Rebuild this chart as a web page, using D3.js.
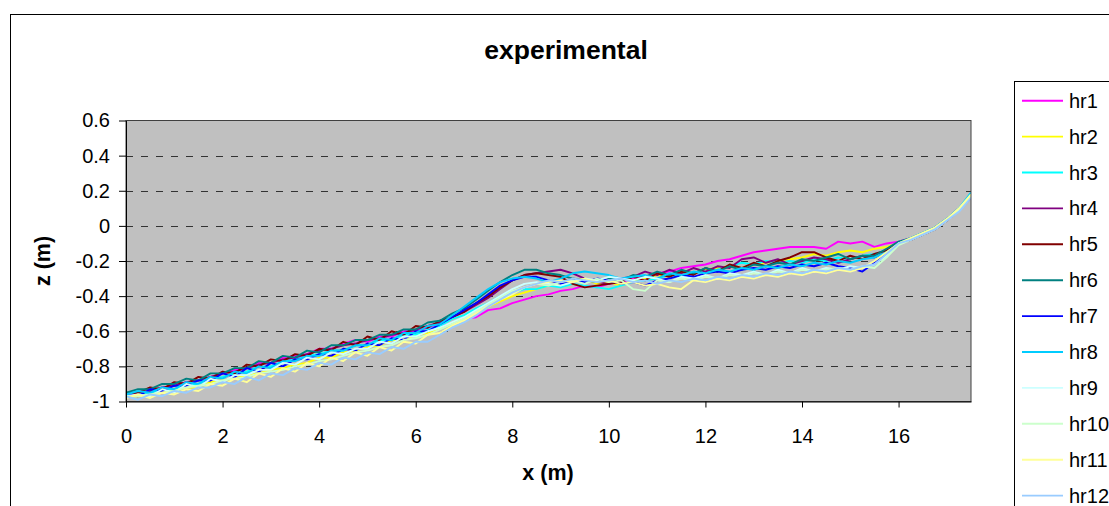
<!DOCTYPE html>
<html>
<head>
<meta charset="utf-8">
<script src="https://cdnjs.cloudflare.com/ajax/libs/d3/7.8.5/d3.min.js"></script>
<style>
	body { margin: 0; background: #fff; }
	svg { display: block; font-family: "Liberation Sans", Arial, sans-serif; }
</style>
</head>
<body>
<div id="chart"></div>
<script>

// x positions of the profile points (m)
var xs = [0,0.25,0.5,0.75,1,1.25,1.5,1.75,2,2.25,2.5,2.75,3,3.25,3.5,3.75,4,4.25,4.5,4.75,
	5,5.25,5.5,5.75,6,6.25,6.5,6.75,7,7.25,7.5,7.75,8,8.25,8.5,8.75,9,9.25,9.5,9.75,
	10,10.25,10.5,10.75,11,11.25,11.5,11.75,12,12.25,12.5,12.75,13,13.25,13.5,13.75,
	14,14.25,14.5,14.75,15,15.25,15.5,15.75,16,16.25,16.5,16.75,17,17.25,17.5];

// bed level z (m), one array per hour
var hr1 = [-0.96,-0.95,-0.94,-0.92,-0.91,-0.89,-0.88,-0.86,-0.84,-0.82,
	-0.81,-0.78,-0.78,-0.75,-0.74,-0.73,-0.70,-0.70,-0.67,-0.65,
	-0.66,-0.63,-0.63,-0.60,-0.60,-0.58,-0.57,-0.56,-0.53,-0.52,
	-0.48,-0.47,-0.44,-0.42,-0.40,-0.39,-0.37,-0.36,-0.34,-0.35,
	-0.33,-0.32,-0.30,-0.29,-0.27,-0.26,-0.24,-0.23,-0.22,-0.20,
	-0.19,-0.17,-0.15,-0.14,-0.13,-0.12,-0.12,-0.12,-0.13,-0.09,
	-0.10,-0.09,-0.12,-0.10,-0.09,-0.07,-0.04,-0.01,0.04,0.10,0.17];
var hr2 = [-0.97,-0.97,-0.96,-0.95,-0.94,-0.92,-0.92,-0.89,-0.88,-0.87,
	-0.85,-0.84,-0.82,-0.81,-0.79,-0.78,-0.75,-0.75,-0.72,-0.71,
	-0.69,-0.68,-0.65,-0.65,-0.62,-0.61,-0.58,-0.56,-0.53,-0.50,
	-0.46,-0.43,-0.40,-0.38,-0.36,-0.34,-0.33,-0.31,-0.30,-0.33,
	-0.32,-0.34,-0.31,-0.30,-0.28,-0.29,-0.26,-0.27,-0.25,-0.24,
	-0.23,-0.24,-0.22,-0.21,-0.20,-0.19,-0.18,-0.16,-0.17,-0.15,
	-0.14,-0.15,-0.13,-0.12,-0.10,-0.08,-0.05,-0.02,0.03,0.09,0.17];
var hr3 = [-0.96,-0.95,-0.95,-0.93,-0.93,-0.90,-0.90,-0.87,-0.86,-0.84,
	-0.83,-0.80,-0.80,-0.77,-0.76,-0.74,-0.73,-0.71,-0.71,-0.68,
	-0.68,-0.65,-0.65,-0.62,-0.62,-0.59,-0.57,-0.53,-0.51,-0.47,
	-0.44,-0.40,-0.38,-0.36,-0.36,-0.34,-0.35,-0.33,-0.34,-0.35,
	-0.36,-0.34,-0.32,-0.31,-0.30,-0.28,-0.29,-0.27,-0.26,-0.25,
	-0.23,-0.21,-0.22,-0.20,-0.21,-0.20,-0.21,-0.19,-0.20,-0.18,
	-0.19,-0.17,-0.16,-0.14,-0.10,-0.07,-0.04,-0.01,0.04,0.10,0.18];
var hr4 = [-0.96,-0.95,-0.94,-0.92,-0.91,-0.89,-0.88,-0.86,-0.84,-0.83,
	-0.81,-0.79,-0.78,-0.76,-0.75,-0.73,-0.71,-0.70,-0.68,-0.67,
	-0.65,-0.64,-0.62,-0.61,-0.59,-0.57,-0.55,-0.52,-0.49,-0.45,
	-0.41,-0.36,-0.31,-0.28,-0.27,-0.26,-0.25,-0.27,-0.30,-0.32,
	-0.33,-0.30,-0.29,-0.26,-0.28,-0.25,-0.27,-0.24,-0.26,-0.23,
	-0.24,-0.19,-0.18,-0.21,-0.19,-0.22,-0.20,-0.18,-0.19,-0.21,
	-0.19,-0.17,-0.18,-0.15,-0.10,-0.08,-0.05,-0.02,0.03,0.09,0.16];
var hr5 = [-0.95,-0.95,-0.92,-0.93,-0.89,-0.90,-0.86,-0.87,-0.83,-0.84,
	-0.79,-0.80,-0.76,-0.77,-0.73,-0.74,-0.70,-0.71,-0.66,-0.68,
	-0.63,-0.65,-0.60,-0.62,-0.57,-0.58,-0.54,-0.52,-0.49,-0.44,
	-0.40,-0.35,-0.31,-0.28,-0.27,-0.28,-0.29,-0.33,-0.35,-0.34,
	-0.33,-0.32,-0.29,-0.31,-0.27,-0.29,-0.26,-0.28,-0.24,-0.26,
	-0.22,-0.24,-0.21,-0.23,-0.20,-0.18,-0.15,-0.15,-0.18,-0.20,
	-0.17,-0.19,-0.16,-0.14,-0.10,-0.08,-0.05,-0.02,0.03,0.09,0.17];
var hr6 = [-0.95,-0.93,-0.93,-0.90,-0.90,-0.87,-0.88,-0.84,-0.84,-0.81,
	-0.81,-0.77,-0.78,-0.74,-0.75,-0.71,-0.72,-0.68,-0.68,-0.65,
	-0.65,-0.62,-0.62,-0.59,-0.59,-0.55,-0.54,-0.50,-0.47,-0.42,
	-0.37,-0.32,-0.28,-0.25,-0.25,-0.27,-0.28,-0.30,-0.31,-0.32,
	-0.30,-0.31,-0.28,-0.29,-0.26,-0.28,-0.25,-0.27,-0.24,-0.26,
	-0.23,-0.25,-0.22,-0.23,-0.21,-0.22,-0.19,-0.20,-0.18,-0.16,
	-0.19,-0.17,-0.17,-0.13,-0.09,-0.07,-0.04,-0.01,0.04,0.10,0.17];
var hr7 = [-0.96,-0.97,-0.93,-0.94,-0.91,-0.91,-0.88,-0.88,-0.84,-0.86,
	-0.81,-0.83,-0.78,-0.80,-0.76,-0.76,-0.73,-0.74,-0.70,-0.71,
	-0.67,-0.68,-0.64,-0.65,-0.60,-0.60,-0.56,-0.52,-0.48,-0.44,
	-0.39,-0.34,-0.31,-0.29,-0.29,-0.31,-0.33,-0.31,-0.32,-0.30,
	-0.31,-0.33,-0.32,-0.34,-0.31,-0.30,-0.28,-0.29,-0.27,-0.26,
	-0.27,-0.25,-0.24,-0.25,-0.23,-0.24,-0.22,-0.23,-0.21,-0.23,
	-0.24,-0.26,-0.21,-0.16,-0.10,-0.08,-0.05,-0.02,0.03,0.09,0.17];
var hr8 = [-0.96,-0.94,-0.95,-0.92,-0.93,-0.89,-0.90,-0.86,-0.87,-0.83,
	-0.84,-0.80,-0.81,-0.77,-0.77,-0.74,-0.74,-0.71,-0.71,-0.68,
	-0.68,-0.64,-0.65,-0.61,-0.61,-0.57,-0.56,-0.51,-0.46,-0.41,
	-0.36,-0.32,-0.30,-0.29,-0.30,-0.32,-0.30,-0.27,-0.26,-0.27,
	-0.28,-0.30,-0.29,-0.28,-0.30,-0.27,-0.28,-0.26,-0.27,-0.25,
	-0.26,-0.24,-0.25,-0.23,-0.24,-0.22,-0.23,-0.21,-0.22,-0.20,
	-0.21,-0.19,-0.18,-0.15,-0.10,-0.07,-0.04,-0.01,0.04,0.10,0.19];
var hr9 = [-0.97,-0.96,-0.97,-0.93,-0.95,-0.90,-0.92,-0.87,-0.89,-0.85,
	-0.85,-0.82,-0.82,-0.78,-0.79,-0.75,-0.76,-0.72,-0.73,-0.70,
	-0.70,-0.66,-0.67,-0.63,-0.63,-0.60,-0.58,-0.55,-0.52,-0.48,
	-0.44,-0.40,-0.36,-0.33,-0.32,-0.33,-0.34,-0.32,-0.30,-0.31,
	-0.29,-0.30,-0.31,-0.29,-0.30,-0.32,-0.29,-0.30,-0.28,-0.30,
	-0.27,-0.28,-0.26,-0.28,-0.25,-0.27,-0.24,-0.26,-0.24,-0.25,
	-0.23,-0.24,-0.22,-0.17,-0.10,-0.08,-0.05,-0.02,0.03,0.09,0.17];
var hr10 = [-0.97,-0.97,-0.96,-0.95,-0.94,-0.92,-0.91,-0.90,-0.88,-0.87,
	-0.86,-0.84,-0.83,-0.82,-0.80,-0.79,-0.77,-0.76,-0.74,-0.72,
	-0.71,-0.69,-0.68,-0.65,-0.64,-0.62,-0.59,-0.56,-0.53,-0.49,
	-0.45,-0.41,-0.37,-0.35,-0.33,-0.34,-0.32,-0.31,-0.33,-0.30,
	-0.32,-0.31,-0.36,-0.37,-0.31,-0.32,-0.30,-0.31,-0.29,-0.30,
	-0.28,-0.29,-0.27,-0.28,-0.26,-0.27,-0.25,-0.26,-0.25,-0.24,
	-0.25,-0.23,-0.24,-0.18,-0.11,-0.08,-0.05,-0.02,0.03,0.09,0.17];
var hr11 = [-0.98,-0.96,-0.98,-0.95,-0.96,-0.93,-0.94,-0.90,-0.91,-0.87,
	-0.89,-0.84,-0.86,-0.81,-0.83,-0.78,-0.80,-0.75,-0.77,-0.72,
	-0.74,-0.69,-0.71,-0.66,-0.67,-0.62,-0.61,-0.57,-0.54,-0.50,
	-0.46,-0.42,-0.39,-0.35,-0.33,-0.32,-0.31,-0.32,-0.30,-0.32,
	-0.31,-0.33,-0.32,-0.34,-0.33,-0.35,-0.36,-0.31,-0.32,-0.30,
	-0.31,-0.29,-0.30,-0.28,-0.29,-0.27,-0.28,-0.26,-0.27,-0.25,
	-0.26,-0.24,-0.20,-0.15,-0.10,-0.07,-0.04,-0.01,0.04,0.10,0.18];
var hr12 = [-0.97,-0.99,-0.96,-0.97,-0.94,-0.95,-0.92,-0.92,-0.89,-0.90,
	-0.86,-0.88,-0.84,-0.85,-0.81,-0.82,-0.78,-0.79,-0.75,-0.76,
	-0.72,-0.73,-0.69,-0.70,-0.66,-0.66,-0.62,-0.58,-0.55,-0.51,
	-0.46,-0.42,-0.38,-0.35,-0.33,-0.31,-0.32,-0.30,-0.31,-0.32,
	-0.31,-0.30,-0.32,-0.31,-0.33,-0.31,-0.32,-0.30,-0.31,-0.29,
	-0.30,-0.28,-0.29,-0.27,-0.28,-0.26,-0.27,-0.25,-0.26,-0.24,
	-0.25,-0.23,-0.22,-0.16,-0.10,-0.08,-0.05,-0.02,0.03,0.08,0.16];

var seriesNames  = ["hr1","hr2","hr3","hr4","hr5","hr6","hr7","hr8","hr9","hr10","hr11","hr12"];
var seriesValues = [hr1, hr2, hr3, hr4, hr5, hr6, hr7, hr8, hr9, hr10, hr11, hr12];
var seriesColors = ["#FF00FF","#FFFF00","#00FFFF","#800080","#800000","#008080",
	"#0000FF","#00CCFF","#CCFFFF","#CCFFCC","#FFFF99","#99CCFF"];

var xTicks = [0, 2, 4, 6, 8, 10, 12, 14, 16];
var yTicks = [0.6, 0.4, 0.2, 0, -0.2, -0.4, -0.6, -0.8, -1];
var gridTicks = [0.4, 0.2, 0, -0.2, -0.4, -0.6, -0.8];

/*
 * Profile chart: grey plot area, dashed grid, one line per hour, legend at right.
 */
function ProfileChart() {

	var width = 1109;
	var height = 506;
	var plot = {left: 126, right: 971, top: 120.5, bottom: 401.5};

	function chart(selection) {
		selection.each(function() {
			draw(d3.select(this));
		});
	}

	var draw = function(elem) {

		var svg = elem.append("svg")
			.attr("width", width)
			.attr("height", height);

		var x = d3.scaleLinear().domain([0, 17.5]).range([plot.left, plot.right]);
		var y = d3.scaleLinear().domain([-1, 0.6]).range([plot.bottom, plot.top]);

		// outer chart frame, runs off the right and bottom edge
		svg.append("rect")
			.attr("x", 10.5).attr("y", 14.5)
			.attr("width", 1120).attr("height", 520)
			.attr("fill", "#fff").attr("stroke", "#000");

		svg.append("text")
			.attr("x", 566).attr("y", 59)
			.attr("text-anchor", "middle")
			.attr("font-size", "26.5px").attr("font-weight", "bold")
			.text("experimental");

		svg.append("rect")
			.attr("x", plot.left).attr("y", plot.top)
			.attr("width", plot.right - plot.left)
			.attr("height", plot.bottom - plot.top)
			.attr("fill", "#C0C0C0");

		svg.append("g")
			.selectAll("line")
			.data(gridTicks)
			.enter().append("line")
			.attr("x1", plot.left).attr("x2", plot.right)
			.attr("y1", function(d) { return Math.round(y(d)) + 0.5; })
			.attr("y2", function(d) { return Math.round(y(d)) + 0.5; })
			.attr("stroke", "#333")
			.attr("stroke-dasharray", "7,8");

		svg.append("defs").append("clipPath").attr("id", "plotClip")
			.append("rect")
			.attr("x", plot.left).attr("y", plot.top)
			.attr("width", plot.right - plot.left)
			.attr("height", plot.bottom - plot.top);

		var line = d3.line()
			.x(function(d, i) { return x(xs[i]); })
			.y(function(d) { return y(d); });

		svg.append("g")
			.attr("clip-path", "url(#plotClip)")
			.selectAll("path")
			.data(seriesValues)
			.enter().append("path")
			.attr("d", line)
			.attr("fill", "none")
			.attr("stroke", function(d, i) { return seriesColors[i]; })
			.attr("stroke-width", 1.9)
			.attr("stroke-linejoin", "round");

		svg.append("rect")
			.attr("x", plot.left).attr("y", plot.top)
			.attr("width", plot.right - plot.left)
			.attr("height", plot.bottom - plot.top)
			.attr("fill", "none").attr("stroke", "#404040");

		var yAxis = d3.axisLeft(y)
			.tickValues(yTicks)
			.tickSize(7).tickSizeOuter(0).tickPadding(9)
			.tickFormat(function(d) { return String(d); });

		var xAxis = d3.axisBottom(x)
			.tickValues(xTicks)
			.tickSize(6).tickSizeOuter(0).tickPadding(21)
			.tickFormat(function(d) { return String(d); });

		var gy = svg.append("g")
			.attr("transform", "translate(" + plot.left + ",0)")
			.call(yAxis);
		var gx = svg.append("g")
			.attr("transform", "translate(0," + plot.bottom + ")")
			.call(xAxis);

		[gx, gy].forEach(function(g) {
			g.attr("font-family", null).attr("font-size", null);
			g.selectAll("text").attr("font-size", "20px").attr("fill", "#000");
			g.selectAll("line, path").attr("stroke", "#000");
		});

		svg.append("text")
			.attr("x", 548).attr("y", 480)
			.attr("text-anchor", "middle")
			.attr("font-size", "21.5px").attr("font-weight", "bold")
			.text("x (m)");

		svg.append("text")
			.attr("transform", "translate(50,261) rotate(-90)")
			.attr("text-anchor", "middle")
			.attr("font-size", "21.5px").attr("font-weight", "bold")
			.text("z (m)");

		// legend box, also cut by the window
		var legend = svg.append("g");
		legend.append("rect")
			.attr("x", 1014.5).attr("y", 81.5)
			.attr("width", 120).attr("height", 450)
			.attr("fill", "#fff").attr("stroke", "#000");

		var items = legend.selectAll("g.item")
			.data(seriesNames)
			.enter().append("g")
			.attr("class", "item")
			.attr("transform", function(d, i) { return "translate(0," + (100.7 + i * 35.9) + ")"; });

		items.append("line")
			.attr("x1", 1022).attr("x2", 1063)
			.attr("stroke", function(d, i) { return seriesColors[i]; })
			.attr("stroke-width", 1.9);

		items.append("text")
			.attr("x", 1069).attr("y", 7)
			.attr("font-size", "20px")
			.text(function(d) { return d; });
	};

	chart.width = function(value) {
		if (!arguments.length) return width;
		width = value;
		return chart;
	};

	chart.height = function(value) {
		if (!arguments.length) return height;
		height = value;
		return chart;
	};

	return chart;
}

d3.select("#chart").call(ProfileChart());

</script>
</body>
</html>
